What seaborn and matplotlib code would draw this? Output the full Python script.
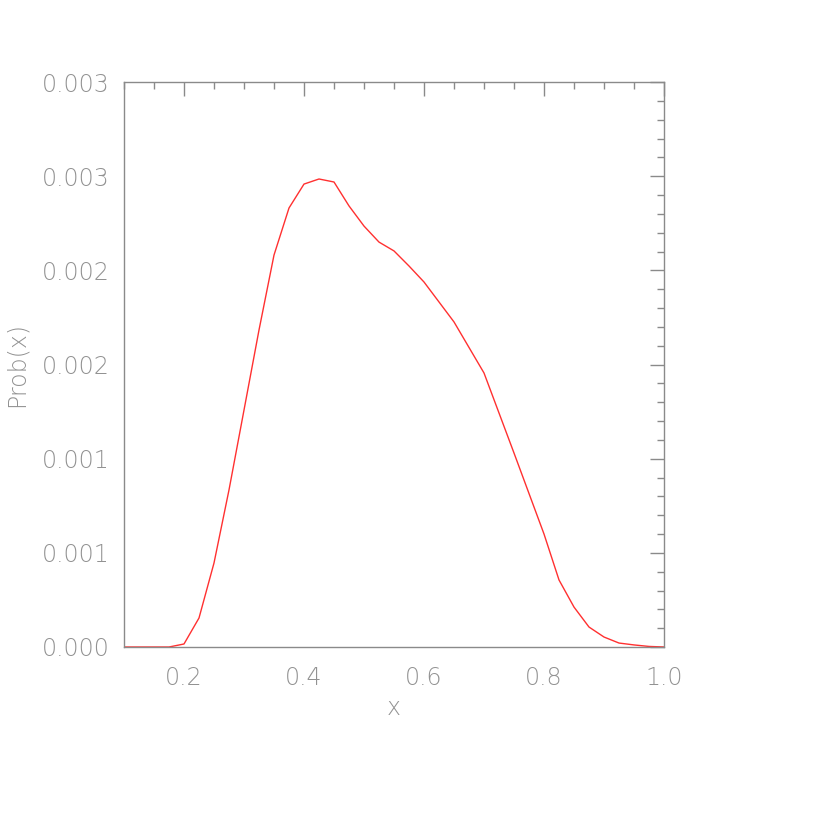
import numpy as np
import pandas as pd
import seaborn as sns
from matplotlib import pyplot as plt
from matplotlib.ticker import MultipleLocator, FuncFormatter

sns.set_style("white")
plt.rcParams['font.family'] = ['DejaVu Sans']

# ----------------
# values
xvals = [0.1, 0.125, 0.15, 0.175, 0.2, 0.225, 0.25, 0.275, 0.3, 0.325, 0.35,
         0.375, 0.4, 0.425, 0.45, 0.475, 0.5, 0.525, 0.55, 0.575, 0.6, 0.65,
         0.7, 0.75, 0.775, 0.8, 0.825, 0.85, 0.875, 0.9, 0.925, 0.95, 0.975, 1.0]
prob = [0.0, 0.0, 0.0, 0.0, 0.000016, 0.000154, 0.000446, 0.000834, 0.001258,
        0.001683, 0.002081, 0.002331, 0.002458, 0.002485, 0.002469, 0.002342,
        0.002235, 0.002150, 0.002103, 0.002023, 0.001938, 0.001726, 0.001455,
        0.001030, 0.000815, 0.000600, 0.000356, 0.000212, 0.000106, 0.000053,
        0.000021, 0.000011, 0.000003, 0.0]
df = pd.DataFrame({"x": xvals, "prob": prob})

axcol = "#8a8a8a"
txtcol = "#929292"

fh = plt.figure(figsize=(8.3, 8.3), dpi=100)
ah = fh.add_axes([124/830, 1-647/830, 540/830, 565/830])
sns.lineplot(x="x", y="prob", data=df, ax=ah, color="#ff3030", linewidth=1)

ah.set_xlim(0.1, 1.0)
ah.set_ylim(0, 0.003)
ah.xaxis.set_major_locator(MultipleLocator(0.2))
ah.xaxis.set_minor_locator(MultipleLocator(0.05))
ah.yaxis.set_major_locator(MultipleLocator(0.0005))
ah.yaxis.set_minor_locator(MultipleLocator(0.0001))
ah.xaxis.set_major_formatter(FuncFormatter(lambda v, p: "%.1f" % v))
ah.yaxis.set_major_formatter(FuncFormatter(lambda v, p: "%.3f" % (round(v*1000 + 1e-9)/1000)))

for s in ah.spines.values():
    s.set_color(axcol)
    s.set_linewidth(1)
ah.tick_params(axis='both', which='major', direction='in', length=10, width=1,
               color=axcol, top=True, right=True, labelsize=17,
               labelcolor=txtcol)
ah.tick_params(axis='x', which='major', pad=14)
ah.tick_params(axis='y', which='major', pad=10)
ah.tick_params(axis='both', which='minor', direction='in', length=5, width=1,
               color=axcol, top=True, right=True)
for lab in ah.get_xticklabels() + ah.get_yticklabels():
    lab.set_fontweight(200)
ah.set_xlabel("x", fontsize=17, color=txtcol, fontweight=200, labelpad=4)
ah.set_ylabel("Prob(x)", fontsize=17, color=txtcol, fontweight=200, labelpad=10)

fh.savefig("out.png", dpi=100, facecolor="white")
